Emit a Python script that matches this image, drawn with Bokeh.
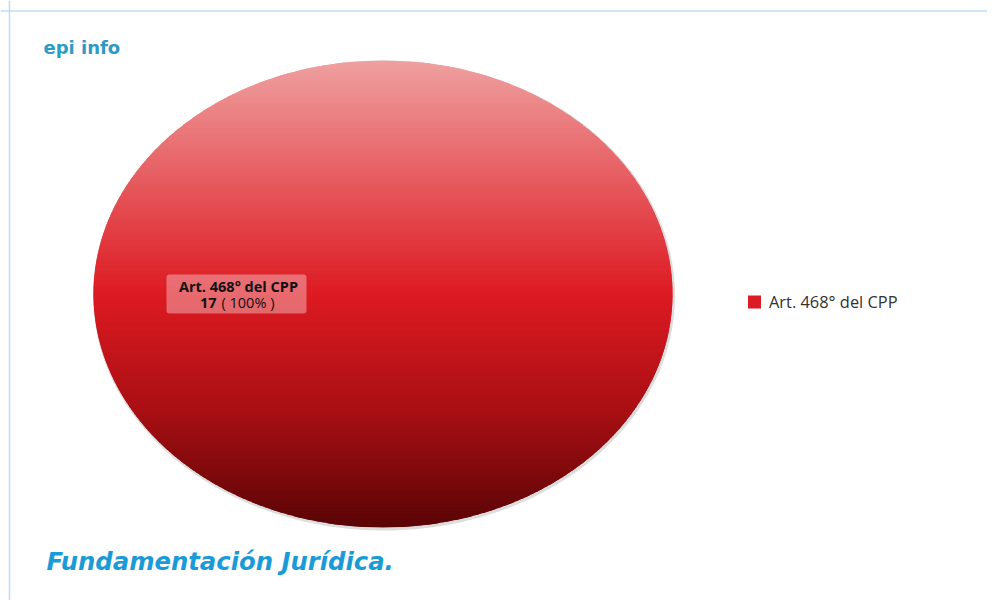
import numpy as np
from bokeh.plotting import figure
from bokeh.models import Range1d, BoxAnnotation, Span
from bokeh.core.properties import value
from bokeh.embed import file_html
from bokeh.resources import INLINE

# ---- data ----
categories = ["Art. 468° del CPP"]
values = [17]
colors = ["#DC1C24"]
title_text = "epi info"
footer_text = "Fundamentación Jurídica."

# ---- layout / style ----
CX, CY, RX, RY = 382.5, 293.5, 289.5, 233.5   # pie ellipse (px)
GRAD = [(0.0, (239, 160, 160)), (0.5, (221, 26, 34)), (0.75, (168, 15, 19)), (1.0, (90, 4, 6))]
FONT = "Open Sans"

def grad_color(t):
    for (t0, c0), (t1, c1) in zip(GRAD[:-1], GRAD[1:]):
        if t <= t1:
            f = (t - t0) / (t1 - t0)
            c = [int(round(a + (b - a) * f)) for a, b in zip(c0, c1)]
            return "#%02x%02x%02x" % tuple(c)
    return "#%02x%02x%02x" % GRAD[-1][1]

p = figure(width=987, height=600, output_backend="svg", toolbar_location=None,
           x_range=Range1d(0, 987), y_range=Range1d(600, 0),
           x_axis_location=None, y_axis_location=None,
           min_border_left=0, min_border_top=0, min_border_right=0, min_border_bottom=0)
p.grid.visible = False
p.outline_line_color = None
p.background_fill_color = "white"
p.border_fill_color = "white"

# panel border (top + left only visible in the reference)
p.add_layout(Span(location=10.5, dimension="width", line_color="#BCDCF4", line_width=1.5))
p.add_layout(Span(location=9, dimension="height", line_color="#BCDCF4", line_width=1.5))

total = float(sum(values))
fracs = [v / total for v in values]

# shadow ring
th = np.linspace(0, 2 * np.pi, 400)
p.patch(CX + 1 + RX * np.cos(th), CY + 1.5 + RY * np.sin(th), fill_color=None,
        line_color="#666666", line_alpha=0.22, line_width=3)

# slices
start = -np.pi / 2
for cat, fr, col in zip(categories, fracs, colors):
    span = fr * 2 * np.pi
    if span >= 2 * np.pi - 1e-9:
        N = 200
        edges = np.linspace(-1, 1, N + 1)
        step = edges[1] - edges[0]
        xs, ys, cs = [], [], []
        for i in range(N):
            v0 = edges[i]
            v1 = min(1.0, edges[i + 1] + step * 0.8)
            vv = np.linspace(v0, v1, 5)
            half = np.sqrt(np.clip(1 - vv ** 2, 0, 1))
            u = np.concatenate([-half, half[::-1]])
            v = np.concatenate([vv, vv[::-1]])
            xs.append(CX + RX * u)
            ys.append(CY + RY * v)
            cs.append(grad_color((edges[i] + edges[i + 1]) / 4 + 0.5))
        p.patches(xs, ys, fill_color=cs, line_color=None)
    else:
        a = np.linspace(start, start + span, 200)
        p.patch(np.concatenate([[CX], CX + RX * np.cos(a)]),
                np.concatenate([[CY], CY + RY * np.sin(a)]), fill_color=col, line_color="white")
    start += span

# data label
pct = fracs[0] * 100
p.add_layout(BoxAnnotation(left=166, right=306, top=274, bottom=313, fill_color="white",
                           fill_alpha=0.35, line_color=None, border_radius=3))
texts = []
texts.append(p.text(x=[238], y=[285.5], text=[categories[0]], text_font=value(FONT), text_font_style="bold",
                    text_font_size="14.5px", text_color="#111111", text_align="center", text_baseline="middle"))
texts.append(p.text(x=[216], y=[302], text=[str(values[0])], text_font=value(FONT), text_font_style="bold",
                    text_font_size="14.5px", text_color="#111111", text_align="right", text_baseline="middle"))
texts.append(p.text(x=[221], y=[302], text=["( %d%% )" % round(pct)], text_font=value(FONT),
                    text_font_size="14.5px", text_color="#111111", text_align="left", text_baseline="middle"))
for r in texts:
    r.level = "overlay"

# legend
p.scatter(x=[754], y=[301.5], marker="square", size=13, fill_color=colors[0], line_color=None)
p.text(x=[768.5], y=[300.5], text=[categories[0]], text_font=value(FONT), text_font_size="16.4px",
       text_color="#333333", text_align="left", text_baseline="middle")

# title & footer
p.text(x=[43], y=[47], text=[title_text], text_font=value("DejaVu Sans"), text_font_style="bold",
       text_font_size="18px", text_color="#2C9BC6", text_align="left", text_baseline="middle")
p.text(x=[46], y=[561], text=[footer_text], text_font=value("DejaVu Sans"),
       text_font_style="bold italic", text_font_size="24.3px", text_color="#1A9BD7",
       text_align="left", text_baseline="middle")

open("out.html", "w").write(file_html(p, INLINE))
